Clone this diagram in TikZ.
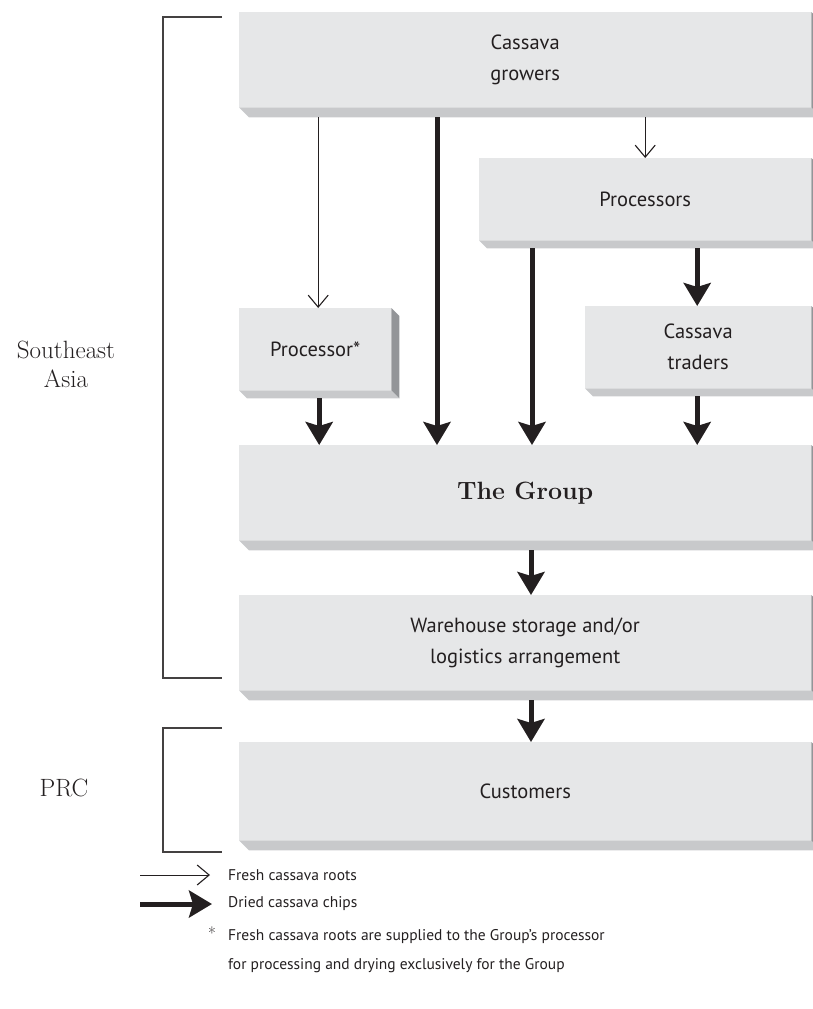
\documentclass[tikz,border=0pt]{standalone}
\usepackage{fontspec}
\newfontfamily\boxfont{PT Sans}
\usetikzlibrary{arrows.meta}
\definecolor{face}{HTML}{E6E7E8}
\definecolor{bevelc}{HTML}{C8C9CB}
\definecolor{sidec}{HTML}{939598}
\definecolor{ink}{HTML}{231F20}
\newcommand\boxbevel[2]{%
  \fill[bevelc] (#1.south west) -- ++(#2,#2) -- ([shift={(#2,#2)}]#1.south east) -- (#1.south east) -- cycle;
  \fill[sidec] (#1.north east) -- ++(#2,#2) -- ([shift={(#2,#2)}]#1.south east) -- (#1.south east) -- cycle;
}
\begin{document}
\begin{tikzpicture}[x=1pt,y=-1pt,
  box/.style={fill=face, draw=none, inner sep=0pt, anchor=north west, align=center,
    font=\boxfont\fontsize{20.5}{31}\selectfont, text=ink},
  region/.style={align=center, font=\fontsize{25}{29}\selectfont, text=ink},
  legtext/.style={anchor=west, inner sep=0pt, font=\boxfont\fontsize{15.5}{29}\selectfont, text=ink, align=left},
  bracket/.style={draw=ink!85, line width=1.1pt},
  thinarr/.style={draw=ink, line width=1pt, -{Straight Barb[length=12pt,width=20pt,line width=1.1pt]}},
  thickarr/.style={draw=ink, line width=5pt, -{Stealth[length=23pt,width=27pt,inset=4pt]}}]
\useasboundingbox (0,0) rectangle (813,1009);
\clip (0,0) rectangle (813,1009);

% boxes
\node[box, minimum width=572pt, minimum height=95pt] (growers) at (239,12) {Cassava\\growers};
\boxbevel{growers}{10}
\node[box, minimum width=332pt, minimum height=82pt] (procs) at (479,158) {Processors};
\boxbevel{procs}{8}
\node[box, minimum width=152pt, minimum height=82pt] (procstar) at (239,308) {Processor*};
\boxbevel{procstar}{8}
\node[box, minimum width=226pt, minimum height=82pt] (traders) at (585,306) {Cassava\\traders};
\boxbevel{traders}{8}
\node[box, minimum width=572pt, minimum height=95pt, font=\bfseries\fontsize{25}{29}\selectfont] (group) at (239,445) {The Group};
\boxbevel{group}{10}
\node[box, minimum width=572pt, minimum height=95pt] (ware) at (239,595) {Warehouse storage and/or\\logistics arrangement};
\boxbevel{ware}{10}
\node[box, minimum width=572pt, minimum height=98pt] (cust) at (239,742) {Customers};
\boxbevel{cust}{10}

% thin arrows (fresh roots)
\draw[thinarr] ([yshift=-10pt]growers.south -| procstar.north) ++(3,0) coordinate (t1) -- (t1 |- procstar.north);
\draw[thinarr] ([yshift=-10pt]growers.south -| procs.north) -- (procs.north);

% thick arrows (dried chips)
\draw[thickarr] ([xshift=198pt,yshift=-10pt]growers.south west) coordinate (g1) -- (g1 |- group.north);
\draw[thickarr] ([yshift=-8pt]procstar.south) ++(4,0) coordinate (p1) -- (p1 |- group.north);
\draw[thickarr] ([xshift=53pt,yshift=-8pt]procs.south west) coordinate (p2) -- (p2 |- group.north);
\draw[thickarr] ([yshift=-8pt]procs.south -| traders.north) ++(-1,0) coordinate (p3) -- (p3 |- traders.north);
\draw[thickarr] ([yshift=-8pt]traders.south) ++(-1,0) coordinate (p4) -- (p4 |- group.north);
\draw[thickarr] ([xshift=292pt,yshift=-10pt]group.south west) coordinate (p5) -- (p5 |- ware.north);
\draw[thickarr] ([xshift=292pt,yshift=-10pt]ware.south west) coordinate (p6) -- (p6 |- cust.north);

% region brackets
\coordinate (sa1) at (222,17);
\coordinate (sa2) at (222,678);
\draw[bracket] (sa1) -| (163,678) -- (sa2);
\node[region] (sea) at (66,364) {Southeast\\Asia};
\coordinate (pr1) at (222,728);
\coordinate (pr2) at (222,852);
\draw[bracket] (pr1) -| (163,852) -- (pr2);
\node[region] (prc) at (64,788) {PRC};

% legend
\coordinate (l1a) at (140,875);
\coordinate (l1b) at (210,875);
\draw[thinarr] (l1a) -- (l1b);
\node[legtext] (l1t) at (228,875) {Fresh cassava roots};
\coordinate (l2a) at (140,904);
\coordinate (l2b) at (212,904);
\draw[thickarr] (l2a) -- (l2b);
\node[legtext] (l2t) at (228,904) {Dried cassava chips};
\node[legtext, font=\fontsize{17}{20}\selectfont] (star) at (208,933) {*};
\node[legtext, anchor=north west] (l3t) at (228,929) {Fresh cassava roots are supplied to the Group’s processor\\for processing and drying exclusively for the Group};
\end{tikzpicture}
\end{document}
